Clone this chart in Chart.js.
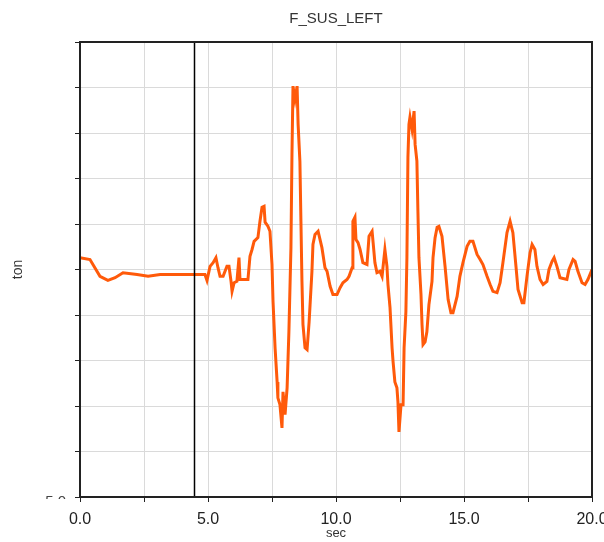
<!DOCTYPE html>
<html>
<head>
<meta charset="utf-8">
<script src="https://cdn.jsdelivr.net/npm/chart.js@4.4.1/dist/chart.umd.min.js"></script>
<style>
  html, body { margin: 0; padding: 0; background: #fff; }
</style>
</head>
<body>
<canvas id="sus_chart" width="604" height="542"></canvas>
<script>
// Sample times (sec) and suspension force (ton)
const timeSec = [
    0, 0.39, 0.78, 1.09, 1.37, 1.68, 2.23, 2.66, 3.13, 4.88,
    4.96, 5.08, 5.2, 5.31, 5.39, 5.47, 5.59, 5.74, 5.82, 5.9,
    5.94, 6.02, 6.13, 6.21, 6.25, 6.56, 6.64, 6.72, 6.8, 6.95,
    7.03, 7.11, 7.19, 7.23, 7.34, 7.42, 7.5, 7.54, 7.62, 7.7,
    7.73, 7.81, 7.89, 7.93, 8.01, 8.09, 8.16, 8.24, 8.28, 8.32,
    8.4, 8.48, 8.52, 8.59, 8.63, 8.67, 8.71, 8.79, 8.87, 8.95,
    9.06, 9.1, 9.18, 9.3, 9.45, 9.57, 9.65, 9.77, 9.88, 10.04,
    10.16, 10.27, 10.43, 10.51, 10.63, 10.66, 10.74, 10.78, 10.86, 10.94,
    11.05, 11.21, 11.29, 11.41, 11.45, 11.52, 11.6, 11.72, 11.8, 11.84,
    11.91, 11.99, 12.03, 12.11, 12.19, 12.23, 12.3, 12.38, 12.42, 12.46,
    12.54, 12.62, 12.66, 12.73, 12.77, 12.81, 12.85, 12.89, 12.97, 13.05,
    13.09, 13.16, 13.2, 13.24, 13.32, 13.36, 13.4, 13.48, 13.55, 13.63,
    13.75, 13.79, 13.87, 13.95, 14.02, 14.14, 14.26, 14.38, 14.49, 14.57,
    14.73, 14.84, 14.96, 15.12, 15.23, 15.35, 15.51, 15.63, 15.74, 15.9,
    16.02, 16.13, 16.29, 16.41, 16.52, 16.68, 16.8, 16.91, 17.03, 17.11,
    17.27, 17.34, 17.46, 17.58, 17.66, 17.77, 17.85, 17.97, 18.09, 18.24,
    18.32, 18.44, 18.52, 18.63, 18.75, 19.02, 19.1, 19.26, 19.34, 19.45,
    19.61, 19.73, 19.84, 20.0
];
const forceTon = [
    0.26, 0.22, -0.15, -0.24, -0.18, -0.07, -0.11, -0.15, -0.11, -0.11,
    -0.24, 0.07, 0.15, 0.26, 0.04, -0.15, -0.15, 0.07, 0.07, -0.26,
    -0.48, -0.29, -0.26, 0.26, -0.22, -0.22, 0.29, 0.44, 0.62, 0.7,
    1.06, 1.37, 1.39, 1.04, 0.95, 0.84, 0.11, -0.7, -1.72, -2.47,
    -2.82, -2.97, -3.48, -2.69, -3.19, -2.6, -1.37, 0.48, 2.53, 4.03,
    3.74, 4.03, 3.19, 2.38, 1.06, -0.26, -1.21, -1.72, -1.76, -1.15,
    -0.04, 0.55, 0.77, 0.84, 0.48, 0.04, -0.04, -0.37, -0.55, -0.55,
    -0.4, -0.29, -0.22, -0.15, 0.04, 1.06, 1.15, 0.66, 0.59, 0.44,
    0.15, 0.11, 0.73, 0.84, 0.59, 0.15, -0.07, -0.04, -0.15, 0.07,
    0.44, 0.07, -0.33, -0.84, -1.72, -2.03, -2.47, -2.6, -2.91, -3.57,
    -2.97, -2.97, -1.72, -0.93, 0.26, 2.47, 3.19, 3.35, 3.08, 3.48,
    2.75, 2.38, 1.28, 0.26, -0.55, -1.21, -1.65, -1.59, -1.37, -0.77,
    -0.26, 0.26, 0.7, 0.93, 0.95, 0.73, 0.07, -0.66, -0.95, -0.95,
    -0.59, -0.15, 0.15, 0.51, 0.62, 0.62, 0.33, 0.22, 0.11, -0.15,
    -0.33, -0.48, -0.51, -0.29, 0.15, 0.81, 1.06, 0.81, 0.07, -0.44,
    -0.73, -0.73, -0.15, 0.37, 0.55, 0.44, 0.07, -0.22, -0.33, -0.26,
    0, 0.18, 0.26, 0.07, -0.18, -0.22, 0, 0.22, 0.18, -0.04,
    -0.29, -0.33, -0.22, 0
];
const xTickLabels = ['0.0', '5.0', '10.0', '15.0', '20.0'];
const yAxisMin = -5;
const yAxisMax = 5;
const cursorTime = 4.45; // black marker line
const chartTitle = 'F_SUS_LEFT';

Chart.defaults.font.family = '"Liberation Sans", Arial, sans-serif';
Chart.defaults.color = '#222';

// title over the plot, frame, cursor line and the half hidden bottom y label
const framePlugin = {
    id: 'frame',
    afterDatasetsDraw(chart) {
        const { ctx, chartArea, scales } = chart;
        ctx.save();
        const cx = Math.round(scales.x.getPixelForValue(cursorTime)) + 0.5;
        ctx.strokeStyle = '#000';
        ctx.lineWidth = 1.5;
        ctx.beginPath();
        ctx.moveTo(cx, chartArea.top);
        ctx.lineTo(cx, chartArea.bottom);
        ctx.stroke();

        ctx.strokeStyle = '#222';
        ctx.lineWidth = 2;
        ctx.strokeRect(chartArea.left, chartArea.top,
            chartArea.right - chartArea.left, chartArea.bottom - chartArea.top);

        ctx.fillStyle = '#333';
        ctx.font = '15px "Liberation Sans", Arial, sans-serif';
        ctx.textAlign = 'center';
        ctx.textBaseline = 'middle';
        ctx.fillText(chartTitle, (chartArea.left + chartArea.right) / 2, 19);

        ctx.beginPath();
        ctx.rect(30, chartArea.bottom - 3, 40, 5);
        ctx.clip();
        ctx.fillStyle = '#444';
        ctx.textAlign = 'right';
        ctx.fillText(yAxisMin.toFixed(1), 66, chartArea.bottom + 5);
        ctx.restore();
    }
};

const ctx = document.getElementById('sus_chart').getContext('2d');
const chart = new Chart(ctx, {
    type: 'line',
    data: {
        datasets: [{
            label: chartTitle,
            data: timeSec.map((t, i) => ({ x: t, y: forceTon[i] })),
            borderColor: '#ff5a0a',
            borderWidth: 3,
            pointRadius: 0,
            tension: 0,
            fill: false
        }]
    },
    options: {
        responsive: false,
        animation: false,
        layout: { padding: { left: 0, right: 12, top: 42, bottom: 0 } },
        plugins: {
            legend: { display: false },
            tooltip: { enabled: false },
            title: { display: false }
        },
        scales: {
            x: {
                type: 'linear',
                min: 0,
                max: 20,
                ticks: {
                    stepSize: 2.5,
                    maxRotation: 0,
                    autoSkip: false,
                    padding: 8,
                    color: '#222',
                    font: { size: 16 },
                    callback: (v) => (v % 5 === 0 ? xTickLabels[v / 5] : '')
                },
                grid: { color: '#dadada', tickColor: '#222', tickLength: 5 },
                border: { display: false },
                title: {
                    display: true,
                    text: 'sec',
                    color: '#333',
                    font: { size: 13 },
                    padding: { top: 0, bottom: 1 }
                },
                afterFit(scale) {
                    scale.height = 45;
                    scale.paddingLeft = 0;
                    scale.paddingRight = 0;
                }
            },
            y: {
                min: yAxisMin,
                max: yAxisMax,
                ticks: { stepSize: 1, display: false },
                grid: { color: '#dadada', tickColor: '#222', tickLength: 5 },
                border: { display: false },
                title: {
                    display: true,
                    text: 'ton',
                    color: '#333',
                    font: { size: 14 },
                    padding: { top: 10, bottom: 0 }
                },
                afterFit(scale) {
                    scale.width = 80;
                    scale.paddingTop = 0;
                    scale.paddingBottom = 0;
                }
            }
        }
    },
    plugins: [framePlugin]
});
</script>
</body>
</html>
